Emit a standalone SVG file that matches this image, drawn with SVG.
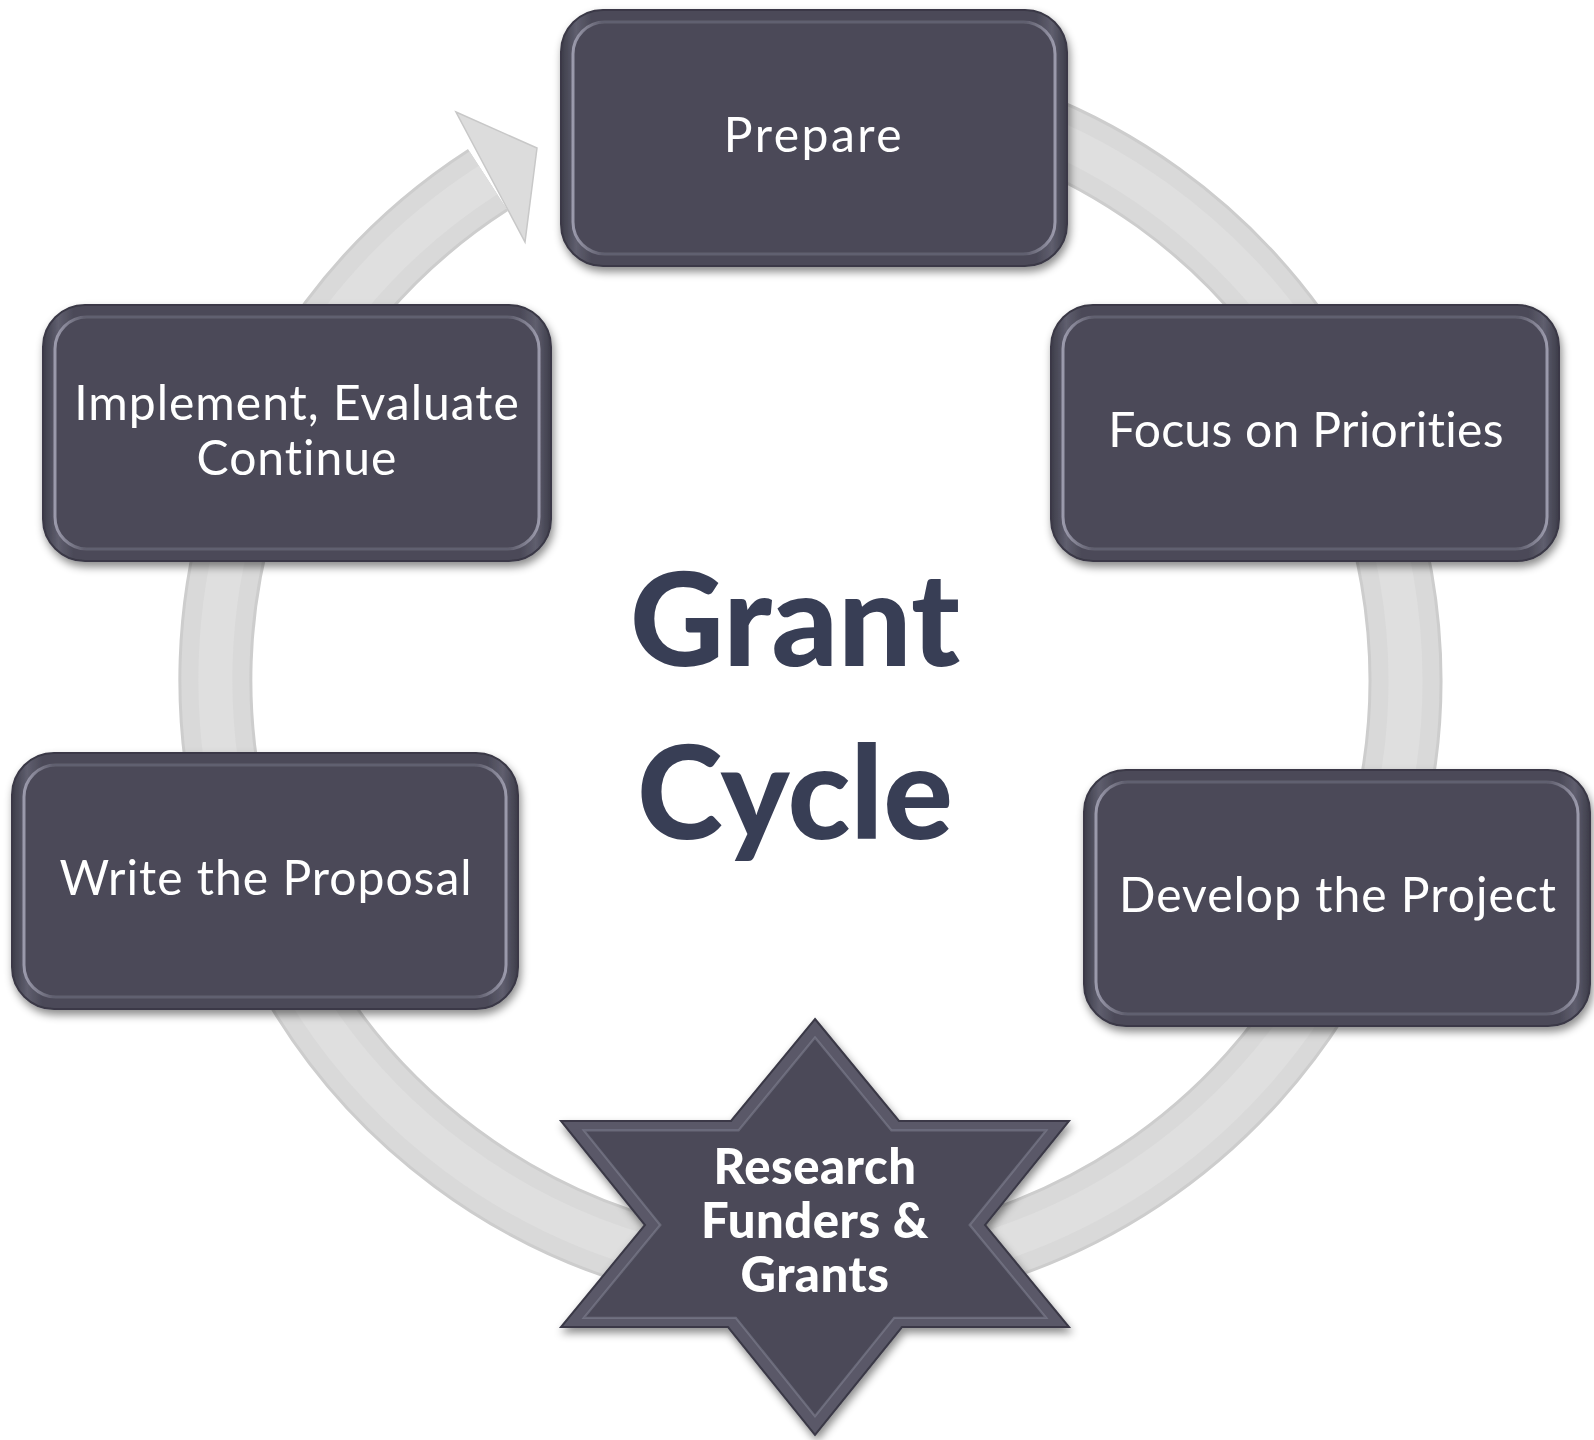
<svg xmlns="http://www.w3.org/2000/svg" width="1594" height="1440" viewBox="0 0 1594 1440">
<defs>
<filter id="shadow" x="-10%" y="-10%" width="120%" height="125%">
<feDropShadow dx="2" dy="5" stdDeviation="4" flood-color="#000" flood-opacity="0.45"/>
</filter>
<linearGradient id="bevel" x1="0" y1="0" x2="1" y2="0">
<stop offset="0" stop-color="#3d3c49"/>
<stop offset="0.03" stop-color="#5f5e6e"/>
<stop offset="0.06" stop-color="#4b4a58"/>
<stop offset="0.94" stop-color="#4b4a58"/>
<stop offset="0.97" stop-color="#5f5e6e"/>
<stop offset="1" stop-color="#3d3c49"/>
</linearGradient>
<linearGradient id="edge" x1="0" y1="0" x2="1" y2="0">
<stop offset="0" stop-color="#a3a2b4" stop-opacity="0.9"/>
<stop offset="0.06" stop-color="#a3a2b4" stop-opacity="0.25"/>
<stop offset="0.94" stop-color="#a3a2b4" stop-opacity="0.25"/>
<stop offset="1" stop-color="#a3a2b4" stop-opacity="0.9"/>
</linearGradient>
</defs>
<style>
.box{fill:url(#bevel);stroke:#3a3946;stroke-width:2}
.face{fill:#4b4a58;stroke:url(#edge);stroke-width:3}
.lbl{font-family:Lato,"Liberation Sans",sans-serif;font-size:48px;fill:#ffffff;text-anchor:middle;letter-spacing:1px}
.star{font-family:Lato,"Liberation Sans",sans-serif;font-size:49px;font-weight:900;fill:#ffffff;text-anchor:middle;letter-spacing:0.5px}
.title{font-family:Lato,"Liberation Sans",sans-serif;font-size:130px;font-weight:900;fill:#383e55;text-anchor:middle}
</style>
<rect width="1594" height="1440" fill="#ffffff"/>

<g id="connectors">
<path d="M 763 87 A 595 595 0 1 1 488 180" fill="none" stroke="#cdcdcd" stroke-width="74"/>
<path d="M 763 87 A 595 595 0 1 1 488 180" fill="none" stroke="#d9d9d9" stroke-width="68"/>
<path d="M 763 87 A 595 595 0 1 1 488 180" fill="none" stroke="#dfdfdf" stroke-width="34"/>
<polygon points="456,112 537,148 525,242" fill="#dcdcdc" stroke="#c8c8c8" stroke-width="1.5" stroke-linejoin="miter"/>
</g>

<g id="title">
<text class="title" x="795" y="666">Grant</text>
<text class="title" x="795" y="839">Cycle</text>
</g>

<g id="node-prepare" filter="url(#shadow)">
<rect class="box" x="561" y="10" width="506" height="256" rx="42"/>
<rect class="face" x="573" y="22" width="482" height="232" rx="32"/>
<text class="lbl" x="814" y="152" style="letter-spacing:2.5px">Prepare</text>
</g>

<g id="node-focus" filter="url(#shadow)">
<rect class="box" x="1051" y="305" width="508" height="256" rx="42"/>
<rect class="face" x="1063" y="317" width="484" height="232" rx="32"/>
<text class="lbl" x="1306" y="447" style="letter-spacing:0.3px">Focus on Priorities</text>
</g>

<g id="node-develop" filter="url(#shadow)">
<rect class="box" x="1084" y="770" width="506" height="256" rx="42"/>
<rect class="face" x="1096" y="782" width="482" height="232" rx="32"/>
<text class="lbl" x="1338" y="912">Develop the Project</text>
</g>

<g id="node-research" filter="url(#shadow)">
<polygon points="815,1019 899,1121 1069,1121 985,1225 1069,1327 902,1327 815,1435 728,1327 561,1327 645,1225 561,1121 731,1121" fill="#5a5968" stroke="#3a3946" stroke-width="2"/>
<polygon points="815,1019 899,1121 1069,1121 985,1225 1069,1327 902,1327 815,1435 728,1327 561,1327 645,1225 561,1121 731,1121" transform="translate(815 1225) scale(0.91) translate(-815 -1225)" fill="#4b4a58" stroke="#8f8ea0" stroke-width="2.5" stroke-opacity="0.45"/>
<text class="star" x="815" y="1184">Research</text>
<text class="star" x="815" y="1238">Funders &amp;</text>
<text class="star" x="815" y="1292">Grants</text>
</g>

<g id="node-write" filter="url(#shadow)">
<rect class="box" x="12" y="753" width="506" height="256" rx="42"/>
<rect class="face" x="24" y="765" width="482" height="232" rx="32"/>
<text class="lbl" x="266" y="895">Write the Proposal</text>
</g>

<g id="node-implement" filter="url(#shadow)">
<rect class="box" x="43" y="305" width="508" height="256" rx="42"/>
<rect class="face" x="55" y="317" width="484" height="232" rx="32"/>
<text class="lbl" x="297" y="420">Implement, Evaluate</text>
<text class="lbl" x="297" y="475">Continue</text>
</g>
</svg>
